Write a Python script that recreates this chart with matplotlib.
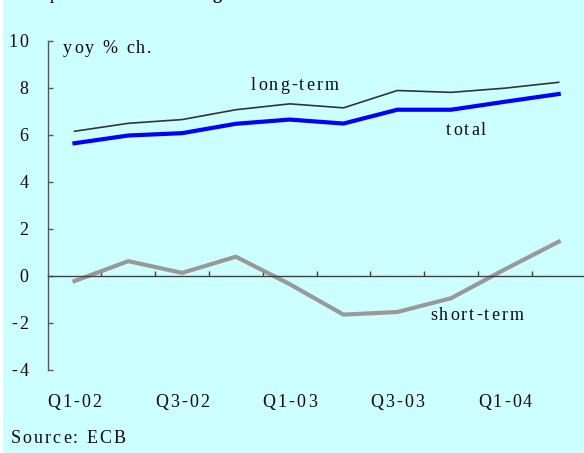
import matplotlib
matplotlib.use('Agg')
import matplotlib.pyplot as plt
import matplotlib.transforms as mtrans
from matplotlib.font_manager import FontProperties, findfont, get_font
from matplotlib.ft2font import LoadFlags
from matplotlib.patches import Rectangle

# data (yoy % change)
quarters = ['Q1-02', 'Q2-02', 'Q3-02', 'Q4-02', 'Q1-03',
            'Q2-03', 'Q3-03', 'Q4-03', 'Q1-04', 'Q2-04']
long_term = [6.17, 6.51, 6.67, 7.09, 7.34, 7.17, 7.91, 7.83, 8.01, 8.26]
total = [5.66, 5.99, 6.09, 6.49, 6.67, 6.50, 7.09, 7.09, 7.43, 7.76]
short_term = [-0.22, 0.63, 0.13, 0.82, -0.35, -1.65, -1.54, -0.95, 0.28, 1.46]
y_ticks = [-4, -2, 0, 2, 4, 6, 8, 10]
x_labels = quarters[::2]

SERIF = 'Liberation Serif'
FS = 13
SP = 1.45  # extra letter spacing (points)
W, H = 584, 453

fig = plt.figure(figsize=(W / 100, H / 100), dpi=100, facecolor='#ccffff')
ax = fig.add_axes([47.6 / W, 1 - 369.7 / H, 538 / W, 328.2 / H])
ax.set_facecolor('none')


def spaced(x, y, s, transform, ha='left', dx=0, dy=0, weight='normal', style='normal'):
    """text with letter spacing, va = baseline; returns end offset in points"""
    fp = FontProperties(family=SERIF, size=FS, weight=weight, style=style)
    font = get_font(findfont(fp))
    font.set_size(FS, 72)
    adv = [font.load_char(ord(c), flags=LoadFlags.NO_HINTING).linearHoriAdvance / 65536 for c in s]
    width = sum(adv) + SP * (len(s) - 1)
    pos = {'left': 0, 'center': -width / 2, 'right': -width}[ha]
    for c, a in zip(s, adv):
        if c != ' ':
            tr = transform + mtrans.ScaledTranslation((pos + dx) / 72, dy / 72, fig.dpi_scale_trans)
            fig.text(x, y, c, transform=tr, fontproperties=fp, color='#0a0a0a',
                     ha='left', va='baseline')
        pos += a + SP
    return pos + dx


x = list(range(1, len(quarters) + 1))
ax.plot(x, long_term, color='#333333', lw=1.2)
ax.plot(x, total, color='#0000ff', lw=3)
ax.plot(x, short_term, color='#999999', lw=3)

ax.set_xlim(0.5, len(quarters) + 0.5)
ax.set_ylim(-4, 10)
for s in ['top', 'right']:
    ax.spines[s].set_visible(False)
ax.spines['left'].set_color('#555555')
ax.spines['bottom'].set_color('#404040')
ax.spines['bottom'].set_position(('data', 0))
ax.spines['left'].set_linewidth(1)
ax.spines['bottom'].set_linewidth(1)

ax.set_yticks(y_ticks)
ax.set_yticklabels([])
ax.set_xticks([i + 0.5 for i in x[:-1]])
ax.set_xticklabels([])
ax.tick_params(axis='y', direction='in', length=3.6, width=1, color='#555555')
ax.tick_params(axis='x', direction='in', length=3.4, width=1, color='#404040')

# tick labels
for t in y_ticks:
    spaced(0, t, str(t), ax.get_yaxis_transform(), ha='right', dx=-13.6, dy=-4.3)
for i, lab in enumerate(quarters):
    if lab in x_labels:
        spaced(i + 1, 0, lab, ax.get_xaxis_transform(), ha='center', dy=-26.9)

# labels in pixel coordinates
pix = mtrans.IdentityTransform()
spaced(63, H - 53, 'yoy % ch.', pix)
spaced(251, H - 90, 'long-term', pix)
spaced(446, H - 135, 'total', pix)
spaced(430, H - 320, 'short-term', pix)
spaced(10.7, H - 443.3, 'Source: ECB', pix)

# title, mostly cut off at the top edge
end = spaced(15, H + 1, 'Graph 1: ', pix, style='italic')
spaced(15, H + 1, 'MFI lending to euro area households', pix, dx=end, weight='bold')

fig.patches.append(Rectangle((0, 0), 3, H, transform=pix, facecolor='white',
                             edgecolor='none', zorder=-1))

fig.savefig('out.png', dpi=100, facecolor=fig.get_facecolor())
